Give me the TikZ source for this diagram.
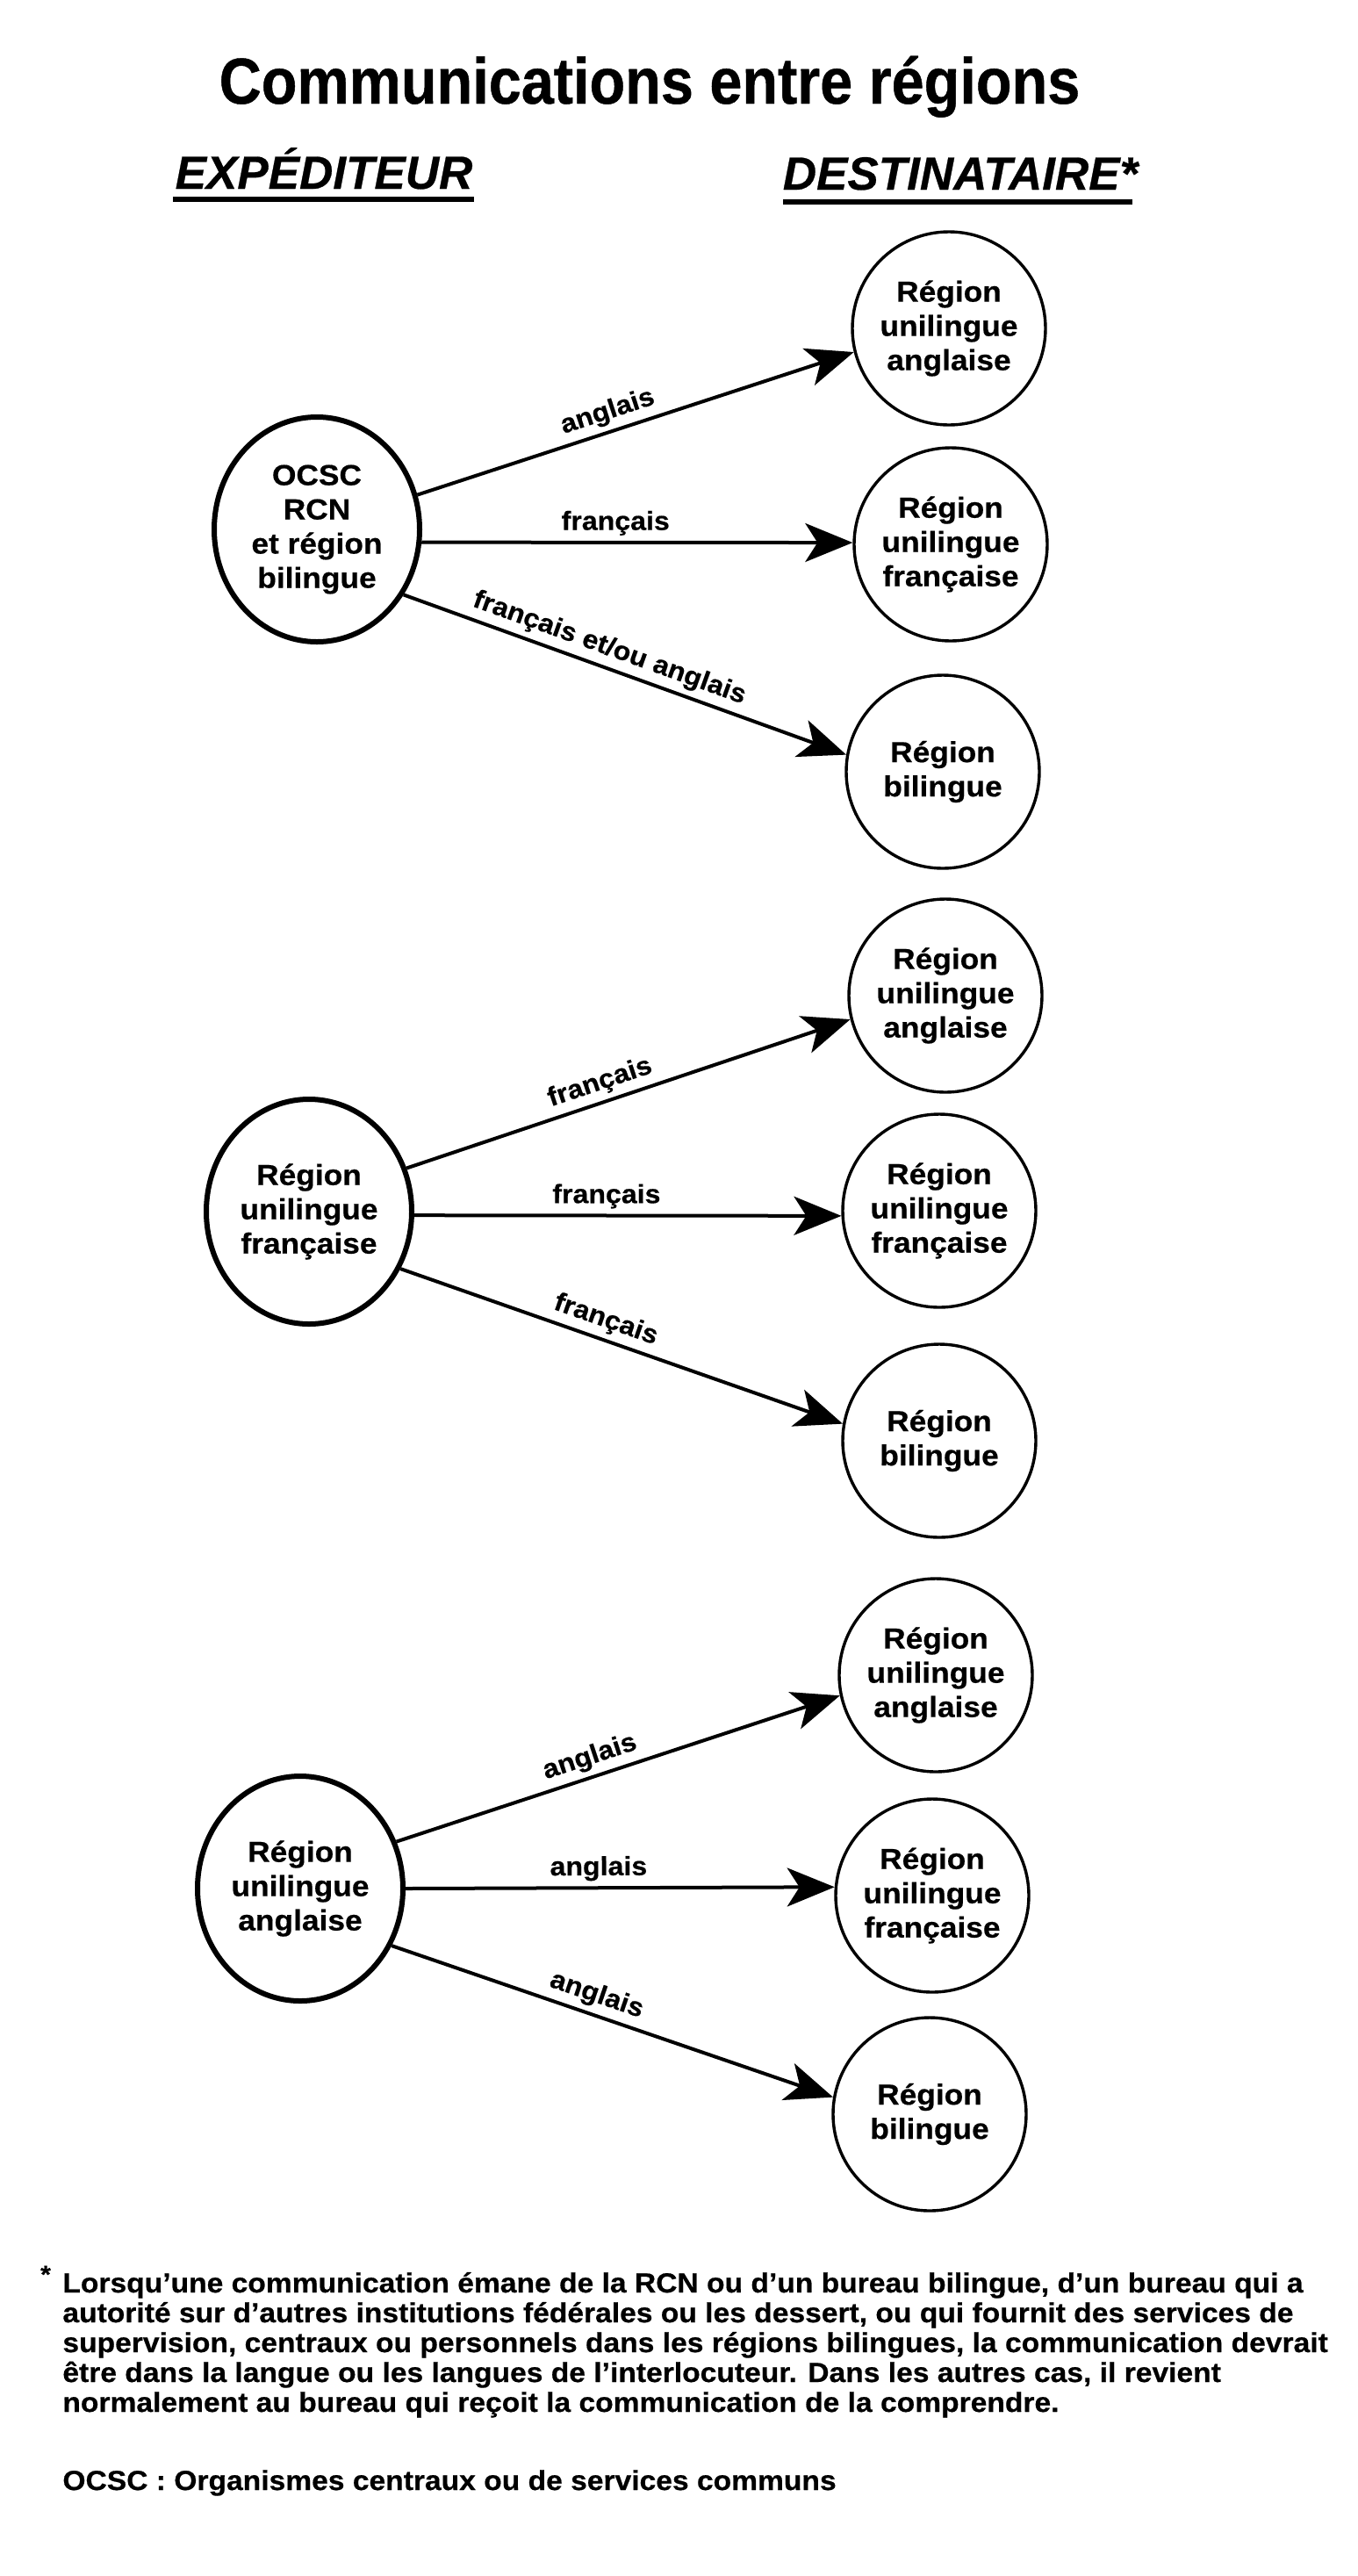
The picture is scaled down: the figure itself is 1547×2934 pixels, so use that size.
\documentclass[tikz,border=0pt]{standalone}
\usepackage{fontspec}
\setmainfont{Liberation Sans}
\newfontfamily\wfont{Liberation Sans}[FakeStretch=1.07,FakeBold=0.5]
\newfontfamily\tfont{Liberation Sans}[FakeStretch=0.9,FakeBold=0.6]
\newfontfamily\hfont{Liberation Sans}[FakeBold=0.5]
\usetikzlibrary{shapes.geometric,arrows.meta}
\begin{document}
\begin{tikzpicture}[x=0.5pt,y=-0.5pt,
  src/.style={ellipse, draw, line width=3pt, minimum width=117pt, minimum height=128pt,
    inner sep=0pt, align=center, font=\wfont\bfseries\fontsize{16.5}{19.5}\selectfont},
  dst/.style={circle, draw, line width=1.7pt, minimum size=110pt, inner sep=0pt,
    align=center, font=\wfont\bfseries\fontsize{16.5}{19.5}\selectfont},
  arr/.style={line width=2pt, -{Stealth[length=27pt,width=22pt,inset=7pt]}},
  lab/.style={font=\wfont\bfseries\fontsize{15}{18}\selectfont, sloped, above, pos=0.45, inner sep=3pt},
  head/.style={font=\hfont\bfseries\itshape\fontsize{26.5}{29}\selectfont, anchor=base, inner sep=0pt},
  uline/.style={line width=2.6pt},
  fnote/.style={font=\wfont\bfseries\fontsize{15.7}{17}\selectfont, anchor=base west, inner sep=0pt}
]
\fill[white] (0,0) rectangle (1547,2934);
\useasboundingbox (0,0) rectangle (1547,2934);

% title and headers
\node[font=\tfont\bfseries\fontsize{37}{40}\selectfont, anchor=base, inner sep=0pt] (title) at (740,118) {Communications entre régions};
\node[head] (exp) at (369,215) {EXPÉDITEUR};
\node[head] (dest) at (1094,216) {DESTINATAIRE*};
\draw[uline] (197,227) -- (540,227);
\draw[uline] (892,230) -- (1290,230);

% group 1
\node[src] (s1) at (361,603) {OCSC\\RCN\\et région\\bilingue};
\node[dst] (t1a) at (1081,374) {Région\\unilingue\\anglaise};
\node[dst] (t1b) at (1083,620) {Région\\unilingue\\française};
\node[dst] (t1c) at (1074,879) {Région\\bilingue};
\draw[arr] (s1.19) -- node[lab] {anglais} (t1a.-166);
\draw[arr] (s1.-7.5) -- node[lab] {français} (t1b.179);
\draw[arr] (s1.-37) -- node[lab] {français et/ou anglais} (t1c.170);

% group 2
\node[src] (s2) at (352,1380) {Région\\unilingue\\française};
\node[dst] (t2a) at (1077,1134) {Région\\unilingue\\anglaise};
\node[dst] (t2b) at (1070,1379) {Région\\unilingue\\française};
\node[dst] (t2c) at (1070,1641) {Région\\bilingue};
\draw[arr] (s2.24) -- node[lab] {français} (t2a.-166);
\draw[arr] (s2.-2) -- node[lab] {français} (t2b.-177.4);
\draw[arr] (s2.-32) -- node[lab] {français} (t2c.170);

% group 3
\node[src] (s3) at (342,2151) {Région\\unilingue\\anglaise};
\node[dst] (t3a) at (1066,1908) {Région\\unilingue\\anglaise};
\node[dst] (t3b) at (1062,2159) {Région\\unilingue\\française};
\node[dst] (t3c) at (1059,2408) {Région\\bilingue};
\draw[arr] (s3.26) -- node[lab] {anglais} (t3a.-168);
\draw[arr] (s3.0) -- node[lab] {anglais} (t3b.175.8);
\draw[arr] (s3.-32) -- node[lab] {anglais} (t3c.170);

% footnote
\node[font=\wfont\bfseries\fontsize{14}{15}\selectfont, anchor=base, inner sep=0pt] (ast) at (52,2600) {*};
\node[fnote] (fn1) at (71,2611) {Lorsqu’une communication émane de la RCN ou d’un bureau bilingue, d’un bureau qui a};
\node[fnote] (fn2) at (71,2645) {autorité sur d’autres institutions fédérales ou les dessert, ou qui fournit des services de};
\node[fnote] (fn3) at (71,2679) {supervision, centraux ou personnels dans les régions bilingues, la communication devrait};
\node[fnote] (fn4) at (71,2713) {être dans la langue ou les langues de l’interlocuteur. Dans les autres cas, il revient};
\node[fnote] (fn5) at (71,2747) {normalement au bureau qui reçoit la communication de la comprendre.};
\node[fnote] (ocsc) at (71,2836) {OCSC : Organismes centraux ou de services communs};
\end{tikzpicture}
\end{document}
